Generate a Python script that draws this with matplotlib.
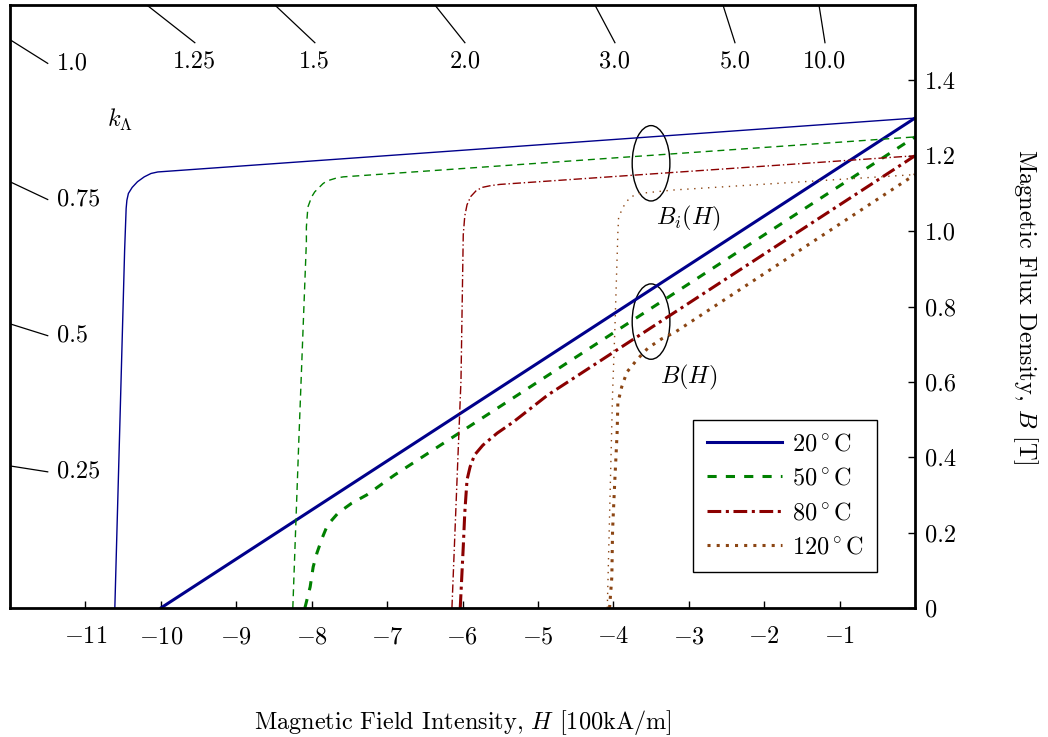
import numpy as np
import matplotlib
matplotlib.use("Agg")
import matplotlib.pyplot as plt
from matplotlib.patches import Ellipse

plt.rcParams["font.family"] = "serif"
plt.rcParams["font.serif"] = ["cmr10"]
plt.rcParams["mathtext.fontset"] = "cm"
plt.rcParams["axes.formatter.use_mathtext"] = True

MU0 = 0.04 * np.pi  # T per 100 kA/m
FS = 17.5

TEMPS = ["20", "50", "80", "120"]
COLORS = {"20": "#00008b", "50": "#008000", "80": "#8b0000", "120": "#8b4513"}

# normal curves B(H)
H_B = {
    "20": [-10.0, 0.0],
    "50": [-8.09, -8.02, -7.98, -7.93, -7.86, -7.79, -7.65, -7.47, -7.27, -6.90, 0.0],
    "80": [-6.03, -5.99, -5.97, -5.94, -5.90, -5.84, -5.73, -5.54, -5.33, -4.87, 0.0],
    "120": [-4.05, -4.02, -4.01, -3.98, -3.95, -3.94, -3.89, -3.82, -3.69, -3.54,
            -3.36, -3.18, 0.0],
}
B_B = {
    "20": [0.0, 1.30],
    "50": [0.0, 0.056, 0.109, 0.146, 0.186, 0.220, 0.252, 0.278, 0.300, 0.353, 1.25],
    "80": [0.0, 0.162, 0.252, 0.340, 0.374, 0.406, 0.432, 0.464, 0.493, 0.565, 1.20],
    "120": [0.0, 0.082, 0.207, 0.340, 0.464, 0.544, 0.586, 0.626, 0.658, 0.690,
            0.714, 0.732, 1.15],
}

# intrinsic curves Bi(H)
H_BI = {
    "20": [-10.61, -10.48, -10.46, -10.45, -10.43, -10.38, -10.31, -10.22, -10.13,
           -10.04, 0.0],
    "50": [-8.25, -8.17, -8.07, -8.07, -8.05, -8.00, -7.96, -7.85, -7.80, -7.67,
           -7.58, 0.0],
    "80": [-6.14, -6.02, -5.99, -5.97, -5.94, -5.89, -5.82, -5.74, -5.62, -5.50, 0.0],
    "120": [-4.08, -4.01, -3.98, -3.94, -3.93, -3.87, -3.78, -3.65, -3.21, 0.0],
}
B_BI = {
    "20": [0.0, 0.95, 1.060, 1.082, 1.100, 1.116, 1.131, 1.144, 1.153, 1.157, 1.30],
    "50": [0.0, 0.446, 0.972, 1.011, 1.064, 1.091, 1.104, 1.126, 1.133, 1.141,
           1.144, 1.25],
    "80": [0.0, 0.605, 0.990, 1.040, 1.070, 1.092, 1.107, 1.116, 1.121, 1.124, 1.20],
    "120": [0.0, 0.570, 0.737, 0.995, 1.037, 1.064, 1.090, 1.100, 1.109, 1.15],
}

K_LAMBDA = [0.25, 0.5, 0.75, 1.0, 1.25, 1.5, 2.0, 3.0, 5.0, 10.0]

X_TICKS = [-11, -10, -9, -8, -7, -6, -5, -4, -3, -2, -1]
Y_TICKS = [0, 0.2, 0.4, 0.6, 0.8, 1.0, 1.2, 1.4]
Y_TICKLABELS = ["0", "0.2", "0.4", "0.6", "0.8", "1.0", "1.2", "1.4"]

B_STYLE = {"20": "-", "50": (0, (3, 3)), "80": (0, (4.5, 1.5, 1, 1.5)), "120": (0, (1, 2))}
BI_STYLE = {"20": "-", "50": (0, (5, 3.5)), "80": (0, (6, 2, 1, 2)), "120": (0, (1, 4))}

fig = plt.figure(figsize=(10.48, 7.37), dpi=100)
ax = fig.add_axes([10 / 1048, 129 / 737, 905 / 1048, 603 / 737])
ax.set_xlim(-12, 0)
ax.set_ylim(0, 1.6)

for t in TEMPS:
    ax.plot(H_BI[t], B_BI[t], color=COLORS[t], lw=1.0, linestyle=BI_STYLE[t])
    ax.plot(H_B[t], B_B[t], color=COLORS[t], lw=2.2, linestyle=B_STYLE[t],
            label=f"{t}$^\\circ$C")

# load-line ticks for permeance coefficient k
for k in K_LAMBDA:
    slope = MU0 * k
    if slope * 12 <= 1.6:
        ax.plot([-12, -11.5], [slope * 12, slope * 11.5], color="black", lw=0.9)
        ax.text(-11.38, slope * 11.5, str(k), ha="left", va="center", fontsize=FS)
    else:
        ax.plot([-1.6 / slope, -1.5 / slope], [1.6, 1.5], color="black", lw=0.9)
        ax.text(-1.5 / slope, 1.45, str(k), ha="center", va="center", fontsize=FS)
ax.text(-10.54, 1.294, r"$k_\Lambda$", ha="center", va="center", fontsize=FS)

ax.add_patch(Ellipse((-3.5, 1.18), 0.5, 0.2, fill=False, color="black", lw=1))
ax.add_patch(Ellipse((-3.5, 0.76), 0.5, 0.2, fill=False, color="black", lw=1))
ax.text(-3.0, 1.034, r"$B_i(H)$", ha="center", va="center", fontsize=FS)
ax.text(-3.0, 0.613, r"$B(H)$", ha="center", va="center", fontsize=FS)

ax.set_xticks(X_TICKS)
ax.set_xticklabels([f"${v}$" for v in X_TICKS])
ax.yaxis.tick_right()
ax.set_yticks(Y_TICKS)
ax.set_yticklabels(Y_TICKLABELS)
ax.tick_params(axis="x", direction="in", length=5, width=1, labelsize=FS, pad=13)
ax.tick_params(axis="y", direction="in", length=5, width=1, labelsize=FS, pad=7)
for s in ax.spines.values():
    s.set_linewidth(2)

ax.set_xlabel("Magnetic Field Intensity, $H$ [100kA/m]", fontsize=FS, labelpad=43)
ax.yaxis.set_label_position("right")
ax.set_ylabel("Magnetic Flux Density, $B$ [T]", fontsize=FS, rotation=270, va="center")
ax.yaxis.set_label_coords(1.122, 0.5)

leg = ax.legend(loc="lower right", bbox_to_anchor=(0.958, 0.06), borderaxespad=0,
                fontsize=FS, fancybox=False, edgecolor="black", framealpha=1,
                handlelength=3.1, handletextpad=0.4, labelspacing=0.5, borderpad=0.55)
leg.get_frame().set_linewidth(1)

fig.savefig("out.png", dpi=100)
